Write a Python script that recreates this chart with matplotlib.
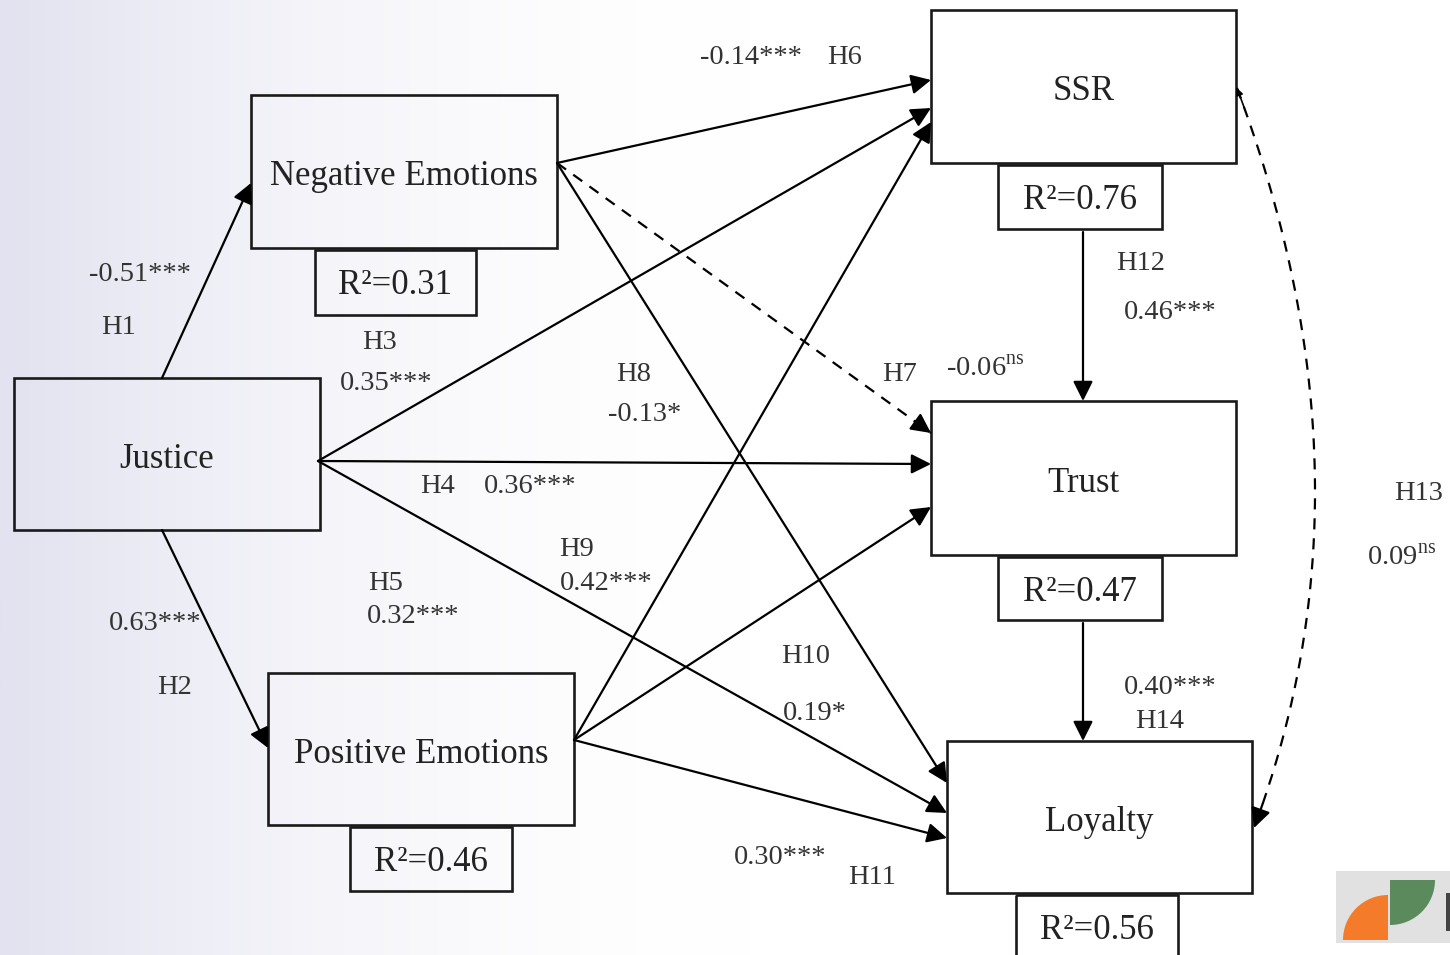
import numpy as np
import matplotlib.pyplot as plt
from matplotlib.patches import Rectangle, Wedge

plt.rcParams['font.family'] = ['Liberation Serif', 'DejaVu Serif']
plt.rcParams['mathtext.fontset'] = 'custom'
plt.rcParams['mathtext.rm'] = 'Liberation Serif'

# --- data ---
nodes = ['Justice', 'Negative Emotions', 'Positive Emotions', 'SSR', 'Trust', 'Loyalty']
r2_nodes = ['Negative Emotions', 'Positive Emotions', 'SSR', 'Trust', 'Loyalty']
r2_values = [0.31, 0.46, 0.76, 0.47, 0.56]

hyps = ['H1', 'H2', 'H3', 'H4', 'H5', 'H6', 'H7', 'H8', 'H9', 'H10', 'H11', 'H12', 'H13', 'H14']
coefs = [-0.51, 0.63, 0.35, 0.36, 0.32, -0.14, -0.06, -0.13, 0.42, 0.19, 0.30, 0.46, 0.09, 0.40]
sigs = ['***', '***', '***', '***', '***', '***', 'ns', '*', '***', '*', '***', '***', 'ns', '***']
dashed = ['H7', 'H13']

# --- layout (pixel coords) ---
box_pos = {
    'Justice': (14, 378, 306, 152),
    'Negative Emotions': (251, 95, 306, 153),
    'Positive Emotions': (268, 673, 306, 152),
    'SSR': (931, 10, 305, 153),
    'Trust': (931, 401, 305, 154),
    'Loyalty': (947, 741, 305, 152),
}
r2_pos = {
    'Negative Emotions': (315, 250, 161, 65),
    'Positive Emotions': (350, 827, 162, 64),
    'SSR': (998, 165, 164, 64),
    'Trust': (998, 557, 164, 63),
    'Loyalty': (1016, 895, 162, 75),
}
edge_pos = {
    'H1': ((162, 378), (251, 183)),
    'H2': ((162, 530), (268, 748)),
    'H3': ((318, 461), (931, 108)),
    'H4': ((318, 461), (931, 464)),
    'H5': ((318, 461), (947, 813)),
    'H6': ((557, 163), (931, 80)),
    'H7': ((557, 163), (931, 433)),
    'H8': ((557, 163), (947, 783)),
    'H9': ((574, 740), (931, 122)),
    'H10': ((574, 740), (931, 507)),
    'H11': ((574, 740), (947, 838)),
    'H12': ((1083, 232), (1083, 401)),
    'H14': ((1083, 623), (1083, 741)),
}
# (hyp label x, y), (coef label x, y)
label_pos = {
    'H1': ((119, 327), (140, 274)),
    'H2': ((175, 687), (155, 623)),
    'H3': ((380, 342), (386, 383)),
    'H4': ((438, 486), (530, 486)),
    'H5': ((386, 583), (413, 616)),
    'H6': ((845, 58), (751, 58)),
    'H7': ((900, 374), (985, 369)),
    'H8': ((634, 374), (645, 414)),
    'H9': ((577, 549), (606, 583)),
    'H10': ((806, 656), (815, 713)),
    'H11': ((872, 877), (780, 857)),
    'H12': ((1141, 263), (1170, 312)),
    'H13': ((1419, 493), (1402, 558)),
    'H14': ((1160, 721), (1170, 687)),
}

fig = plt.figure(figsize=(14.5, 9.55), dpi=100)
ax = fig.add_axes([0, 0, 1, 1])
ax.set_xlim(0, 1450)
ax.set_ylim(955, 0)
ax.axis('off')

# background gradient
t = np.clip(np.linspace(0, 1450, 600) / 750, 0, 1)
fade = (1 - t) ** 1.8
left = np.array([226, 226, 240]) / 255
grad = 1 - fade[:, None] * (1 - left)[None, :]
ax.imshow(grad[None, :, :], extent=[0, 1450, 955, 0], aspect='auto', zorder=0)

box_lw = 1.9
for name in nodes:
    x, y, w, h = box_pos[name]
    ax.add_patch(Rectangle((x, y), w, h, fill=False, ec='#1a1a1a', lw=box_lw, zorder=2))
    ax.text(x + w / 2, y + h / 2 + 5, name, fontsize=25, color='#222222',
            ha='center', va='center', zorder=3)

for name, val in zip(r2_nodes, r2_values):
    x, y, w, h = r2_pos[name]
    ax.add_patch(Rectangle((x, y), w, h, fill=False, ec='#1a1a1a', lw=box_lw, zorder=2))
    ax.text(x + w / 2, y + 35, f'R\u00b2={val:.2f}', fontsize=25, color='#222222',
            ha='center', va='center', zorder=3)

arrow_kw = dict(arrowstyle='-|>', mutation_scale=30, lw=1.6, color='black',
                shrinkA=0, shrinkB=0)
for h in hyps:
    if h not in edge_pos:
        continue
    (x0, y0), (x1, y1) = edge_pos[h]
    if h in dashed:
        ax.plot([x0, x1], [y0, y1], ls=(0, (5, 4)), lw=1.6, color='black', zorder=2)
        ux, uy = (x1 - x0), (y1 - y0)
        n = np.hypot(ux, uy)
        ax.annotate('', xy=(x1, y1), xytext=(x1 - ux / n * 20, y1 - uy / n * 20),
                    arrowprops=arrow_kw, zorder=3)
    else:
        ax.annotate('', xy=(x1, y1), xytext=(x0, y0), arrowprops=arrow_kw, zorder=3)

# curved dashed path SSR -> Loyalty (H13)
p0 = np.array([1237, 88])
p2 = np.array([1254, 828])
pc = np.array([1384, 480])
s = np.linspace(0, 1, 200)[:, None]
curve = (1 - s) ** 2 * p0 + 2 * (1 - s) * s * pc + s ** 2 * p2
ax.plot(curve[:, 0], curve[:, 1], ls=(0, (5, 4)), lw=1.6, color='black', zorder=2)
ax.annotate('', xy=tuple(curve[-1]), xytext=tuple(curve[-8]), arrowprops=arrow_kw, zorder=3)
ax.annotate('', xy=tuple(curve[0]), xytext=tuple(curve[5]),
            arrowprops=dict(arrowstyle='-|>', mutation_scale=10, lw=1.2, color='black',
                            shrinkA=0, shrinkB=0), zorder=3)

# path labels
lab_col = '#333333'
for h, c, sg in zip(hyps, coefs, sigs):
    (hx, hy), (cx, cy) = label_pos[h]
    ax.text(hx, hy, h, fontsize=20.5, color=lab_col, ha='center', va='center', zorder=3)
    if sg == 'ns':
        ctext = f'{c:.2f}' + r'$^{\mathrm{ns}}$'
    else:
        ctext = f'{c:.2f}{sg}'
    ax.text(cx, cy, ctext, fontsize=20.5, color=lab_col, ha='center', va='center', zorder=3)

# logo in the corner (y axis is inverted, so wedge angles are mirrored)
ax.add_patch(Rectangle((1336, 871), 114, 72, fc='#e1e1e1', ec='none', zorder=1))
ax.add_patch(Wedge((1388, 940), 45, 180, 270, fc='#f47b2a', ec='none', zorder=2))
ax.add_patch(Wedge((1390, 880), 45, 0, 90, fc='#5b8a5c', ec='none', zorder=2))
ax.add_patch(Rectangle((1446, 893), 4, 38, fc='#444444', ec='none', zorder=2))

fig.savefig('out.png', dpi=100)
